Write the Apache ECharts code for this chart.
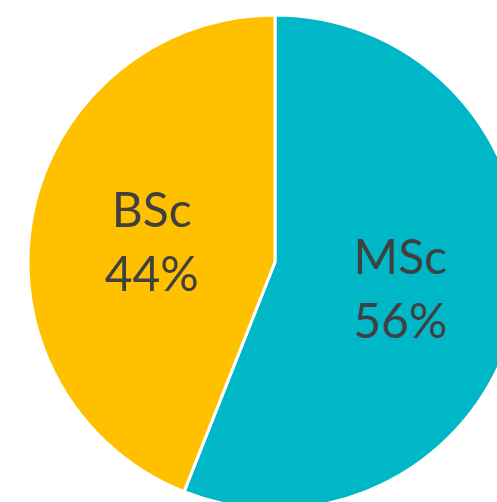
<!DOCTYPE html>
<html>
<head>
<meta charset="utf-8">
<script src="https://cdn.jsdelivr.net/npm/echarts@6/dist/echarts.min.js"></script>
<style>
  html, body { margin: 0; padding: 0; background: #fff; }
  #chart { width: 497px; height: 502px; }
</style>
</head>
<body>
<div id="chart"></div>
<script>
var categories = ['MSc', 'BSc'];
var shares = [56, 44];
var sliceColors = ['#00B7C8', '#FFC000'];

var chart = echarts.init(document.getElementById('chart'));
var option = {
  animation: false,
  series: [
    {
      type: 'pie',
      center: [275, 262],
      radius: 247,
      startAngle: 90,
      clockwise: true,
      avoidLabelOverlap: false,
      itemStyle: { borderColor: '#fff', borderWidth: 3 },
      label: {
        position: 'inside',
        formatter: function (p) { return p.name + '\n' + p.value + '%'; },
        color: '#404040',
        fontFamily: 'Lato',
        fontSize: 48,
        lineHeight: 64,
        offset: [1, 5]
      },
      labelLine: { show: false },
      data: categories.map(function (c, i) {
        return { name: c, value: shares[i], itemStyle: { color: sliceColors[i] } };
      })
    }
  ]
};
chart.setOption(option);
</script>
</body>
</html>
